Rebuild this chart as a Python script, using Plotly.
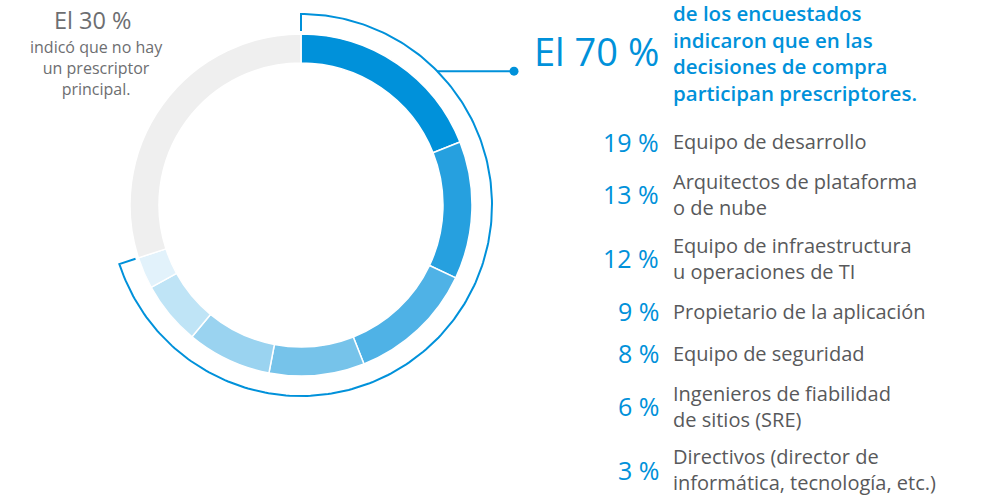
import numpy as np
import plotly.graph_objects as go

# ---------------- data ----------------
categories = [
    ["Equipo de desarrollo"],
    ["Arquitectos de plataforma", "o de nube"],
    ["Equipo de infraestructura", "u operaciones de TI"],
    ["Propietario de la aplicación"],
    ["Equipo de seguridad"],
    ["Ingenieros de fiabilidad", "de sitios (SRE)"],
    ["Directivos (director de", "informática, tecnología, etc.)"],
]
values = [19, 13, 12, 9, 8, 6, 3]
no_prescriber = 30
no_prescriber_label = "El 30 %"
no_prescriber_text = ["indicó que no hay", "un prescriptor", "principal."]
headline = "El 70 %"
headline_text = ["de los encuestados", "indicaron que en las",
                 "decisiones de compra", "participan prescriptores."]

colors = ["#0091DA", "#26A0DF", "#4FB2E6", "#76C3EA", "#9AD3F0", "#BFE4F6", "#E2F2FB"]
gray = "#EFEFEF"
blue = "#0091DA"
text_gray = "#58595B"
left_gray = "#6D6E71"
FONT = "Open Sans"

# page / figure geometry (body margin removed by post_script)
W, H = 982, 497
cx, cy, R = 301, 205, 171

def px(x):
    return x / W

def py(y):
    return 1 - y / H

fig = go.Figure()

# donut
fig.add_trace(go.Pie(
    values=values + [no_prescriber],
    labels=[" ".join(c) for c in categories] + ["Sin prescriptor"],
    marker=dict(colors=colors + [gray], line=dict(color="white", width=1.5)),
    hole=142 / 171,
    sort=False,
    direction="clockwise",
    rotation=0,
    textinfo="none",
    hoverinfo="label+percent",
    showlegend=False,
    domain=dict(x=[px(cx - R), px(cx + R)], y=[py(cy + R), py(cy - R)]),
))

# bracket around the share with a prescriber
share = sum(values) / (sum(values) + no_prescriber)
rb, rt = 191, 174
th = np.linspace(0, 2 * np.pi * share, 240)
bx = np.concatenate([[cx], cx + rb * np.sin(th), [cx + rt * np.sin(th[-1])]])
by = np.concatenate([[cy - rt], cy - rb * np.cos(th), [cy - rt * np.cos(th[-1])]])
fig.add_trace(go.Scatter(x=bx, y=by, mode="lines", line=dict(color=blue, width=2),
                         hoverinfo="skip", showlegend=False))
# connector + dot
ang = np.deg2rad(45.5)
cx0, cy0 = cx + rb * np.sin(ang), cy - rb * np.cos(ang)
fig.add_trace(go.Scatter(x=[cx0, 514], y=[cy0, cy0], mode="lines", line=dict(color=blue, width=2),
                         hoverinfo="skip", showlegend=False))
fig.add_trace(go.Scatter(x=[514], y=[cy0], mode="markers", marker=dict(color=blue, size=9),
                         hoverinfo="skip", showlegend=False))

ann = []
# headline
ann.append(dict(x=659, y=51, text=headline, xanchor="right", yanchor="middle",
                font=dict(family=FONT, size=38, color=blue)))
ann.append(dict(x=673, y=53, text="<br>".join(headline_text), xanchor="left", yanchor="middle",
                align="left", font=dict(family=FONT, size=20.5, color=blue, weight=600)))
# left text
ann.append(dict(x=93, y=20, text=no_prescriber_label, xanchor="center", yanchor="middle",
                font=dict(family=FONT, size=23.5, color=left_gray)))
ann.append(dict(x=96, y=68, text="<br>".join(no_prescriber_text), xanchor="center",
                yanchor="middle", align="center",
                font=dict(family=FONT, size=16, color=left_gray)))

# legend rows
y = 141.5
prev_half = None
for v, c in zip(values, categories):
    half = 21 if len(c) == 1 else 31.9
    if prev_half is not None:
        y += prev_half + half
    prev_half = half
    ann.append(dict(x=659, y=y, text=f"{v} %", xanchor="right", yanchor="middle",
                    font=dict(family=FONT, size=25, color=blue)))
    ann.append(dict(x=673, y=y, text="<br>".join(c), xanchor="left", yanchor="middle",
                    align="left", font=dict(family=FONT, size=20, color=text_gray)))

for a in ann:
    a.update(xref="x", yref="y", showarrow=False, borderpad=0, borderwidth=0)

fig.update_layout(
    width=W, height=H,
    margin=dict(l=0, r=0, t=0, b=0),
    paper_bgcolor="white", plot_bgcolor="rgba(0,0,0,0)",
    xaxis=dict(range=[0, W], visible=False, fixedrange=True),
    yaxis=dict(range=[H, 0], visible=False, fixedrange=True),
    annotations=ann,
)
fig.write_html("out.html", config={"displayModeBar": False},
               post_script="document.body.style.margin='0';document.body.style.overflow='hidden';")
